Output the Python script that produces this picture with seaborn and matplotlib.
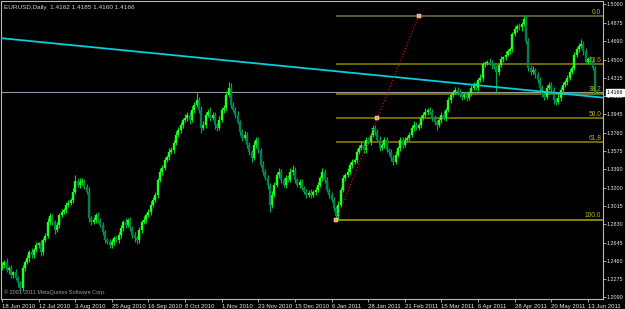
import numpy as np
import pandas as pd
import matplotlib
matplotlib.use("Agg")
import matplotlib.pyplot as plt
import seaborn as sns

# ---------------- data ----------------
header_text = "EURUSD,Daily  1.4162 1.4185 1.4160 1.4166"
copyright_text = "\u00a9 2001-2011 MetaQuotes Software Corp."
start_date = "2010-06-18"

opens = [
    1.2390, 1.2416, 1.2447, 1.2365, 1.2385, 1.2314, 1.2344, 1.2283, 1.2232, 1.2181,
    1.2385, 1.2447, 1.2487, 1.2548, 1.2517, 1.2568, 1.2619, 1.2639, 1.2548, 1.2670,
    1.2711, 1.2853, 1.2914, 1.2853, 1.2772, 1.2823, 1.2924, 1.2955, 1.2975, 1.3026,
    1.3046, 1.3077, 1.3158, 1.3270, 1.3229, 1.3260, 1.3260, 1.3209, 1.3158, 1.2893,
    1.2853, 1.2873, 1.2924, 1.2873, 1.2823, 1.2751, 1.2670, 1.2650, 1.2619, 1.2650,
    1.2690, 1.2670, 1.2721, 1.2792, 1.2853, 1.2823, 1.2873, 1.2792, 1.2721, 1.2690,
    1.2670, 1.2772, 1.2853, 1.2873, 1.2924, 1.2955, 1.3026, 1.3077, 1.3128, 1.3280,
    1.3361, 1.3402, 1.3484, 1.3514, 1.3565, 1.3585, 1.3656, 1.3738, 1.3789, 1.3840,
    1.3890, 1.3911, 1.3941, 1.3890, 1.3992, 1.4043, 1.4094, 1.3992, 1.3809, 1.3840,
    1.3941, 1.3972, 1.3911, 1.3941, 1.3840, 1.3809, 1.3890, 1.3992, 1.4012, 1.4145,
    1.4216, 1.4043, 1.3992, 1.3941, 1.3870, 1.3768, 1.3707, 1.3738, 1.3636, 1.3565,
    1.3504, 1.3636, 1.3687, 1.3585, 1.3433, 1.3361, 1.3300, 1.3229, 1.3026, 1.3128,
    1.3229, 1.3331, 1.3361, 1.3280, 1.3229, 1.3300, 1.3280, 1.3361, 1.3382, 1.3280,
    1.3229, 1.3260, 1.3198, 1.3158, 1.3128, 1.3148, 1.3128, 1.3158, 1.3179, 1.3229,
    1.3300, 1.3361, 1.3280, 1.3179, 1.3128, 1.3077, 1.2995, 1.2914, 1.3026, 1.3179,
    1.3300, 1.3331, 1.3361, 1.3433, 1.3463, 1.3484, 1.3565, 1.3605, 1.3636, 1.3585,
    1.3687, 1.3667, 1.3738, 1.3809, 1.3768, 1.3687, 1.3605, 1.3636, 1.3687, 1.3585,
    1.3565, 1.3504, 1.3463, 1.3534, 1.3605, 1.3687, 1.3636, 1.3687, 1.3707, 1.3738,
    1.3809, 1.3840, 1.3809, 1.3840, 1.3911, 1.3941, 1.3972, 1.3992, 1.3972, 1.3911,
    1.3870, 1.3840, 1.3890, 1.3941, 1.3911, 1.3992, 1.4094, 1.4145, 1.4175, 1.4196,
    1.4175, 1.4145, 1.4124, 1.4145, 1.4114, 1.4165, 1.4216, 1.4246, 1.4216, 1.4297,
    1.4317, 1.4450, 1.4460, 1.4480, 1.4470, 1.4440, 1.4429, 1.4378, 1.4440, 1.4501,
    1.4521, 1.4551, 1.4582, 1.4602, 1.4755, 1.4806, 1.4836, 1.4826, 1.4857, 1.4907,
    1.4684, 1.4419, 1.4378, 1.4399, 1.4348, 1.4297, 1.4216, 1.4145, 1.4124, 1.4216,
    1.4246, 1.4196, 1.4094, 1.4074, 1.4114, 1.4196, 1.4246, 1.4277, 1.4317, 1.4378,
    1.4419, 1.4551, 1.4602, 1.4633, 1.4653, 1.4582, 1.4480, 1.4501, 1.4480, 1.4419,
    1.4162,
]

closes = [
    1.2416, 1.2447, 1.2365, 1.2385, 1.2314, 1.2344, 1.2283, 1.2232, 1.2181, 1.2385,
    1.2447, 1.2487, 1.2548, 1.2517, 1.2568, 1.2619, 1.2639, 1.2548, 1.2670, 1.2711,
    1.2853, 1.2914, 1.2853, 1.2772, 1.2823, 1.2924, 1.2955, 1.2975, 1.3026, 1.3046,
    1.3077, 1.3158, 1.3270, 1.3229, 1.3260, 1.3260, 1.3209, 1.3158, 1.2893, 1.2853,
    1.2873, 1.2924, 1.2873, 1.2823, 1.2751, 1.2670, 1.2650, 1.2619, 1.2650, 1.2690,
    1.2670, 1.2721, 1.2792, 1.2853, 1.2823, 1.2873, 1.2792, 1.2721, 1.2690, 1.2670,
    1.2772, 1.2853, 1.2873, 1.2924, 1.2955, 1.3026, 1.3077, 1.3128, 1.3280, 1.3361,
    1.3402, 1.3484, 1.3514, 1.3565, 1.3585, 1.3656, 1.3738, 1.3789, 1.3840, 1.3890,
    1.3911, 1.3941, 1.3890, 1.3992, 1.4043, 1.4094, 1.3992, 1.3809, 1.3840, 1.3941,
    1.3972, 1.3911, 1.3941, 1.3840, 1.3809, 1.3890, 1.3992, 1.4012, 1.4145, 1.4216,
    1.4043, 1.3992, 1.3941, 1.3870, 1.3768, 1.3707, 1.3738, 1.3636, 1.3565, 1.3504,
    1.3636, 1.3687, 1.3585, 1.3433, 1.3361, 1.3300, 1.3229, 1.3026, 1.3128, 1.3229,
    1.3331, 1.3361, 1.3280, 1.3229, 1.3300, 1.3280, 1.3361, 1.3382, 1.3280, 1.3229,
    1.3260, 1.3198, 1.3158, 1.3128, 1.3148, 1.3128, 1.3158, 1.3179, 1.3229, 1.3300,
    1.3361, 1.3280, 1.3179, 1.3128, 1.3077, 1.2995, 1.2914, 1.3026, 1.3179, 1.3300,
    1.3331, 1.3361, 1.3433, 1.3463, 1.3484, 1.3565, 1.3605, 1.3636, 1.3585, 1.3687,
    1.3667, 1.3738, 1.3809, 1.3768, 1.3687, 1.3605, 1.3636, 1.3687, 1.3585, 1.3565,
    1.3504, 1.3463, 1.3534, 1.3605, 1.3687, 1.3636, 1.3687, 1.3707, 1.3738, 1.3809,
    1.3840, 1.3809, 1.3840, 1.3911, 1.3941, 1.3972, 1.3992, 1.3972, 1.3911, 1.3870,
    1.3840, 1.3890, 1.3941, 1.3911, 1.3992, 1.4094, 1.4145, 1.4175, 1.4196, 1.4175,
    1.4145, 1.4124, 1.4145, 1.4114, 1.4165, 1.4216, 1.4246, 1.4216, 1.4297, 1.4317,
    1.4450, 1.4460, 1.4480, 1.4470, 1.4440, 1.4429, 1.4378, 1.4440, 1.4501, 1.4521,
    1.4551, 1.4582, 1.4602, 1.4755, 1.4806, 1.4836, 1.4826, 1.4857, 1.4907, 1.4684,
    1.4419, 1.4378, 1.4399, 1.4348, 1.4297, 1.4216, 1.4145, 1.4124, 1.4216, 1.4246,
    1.4196, 1.4094, 1.4074, 1.4114, 1.4196, 1.4246, 1.4277, 1.4317, 1.4378, 1.4419,
    1.4551, 1.4602, 1.4633, 1.4653, 1.4582, 1.4480, 1.4501, 1.4480, 1.4419, 1.4162,
    1.4166,
]

# upper / lower shadow lengths, in pips
wick_up_pips = [
    30, 25, 40, 20, 35, 15, 30, 25, 20, 35,
    20, 30, 25, 40, 20, 30, 15, 35, 25, 30,
    40, 30, 25, 20, 35, 25, 30, 20, 25, 30,
    20, 35, 63, 30, 40, 35, 25, 30, 45, 20,
    30, 25, 35, 20, 30, 25, 20, 35, 30, 20,
    25, 30, 35, 20, 40, 25, 30, 20, 35, 25,
    30, 25, 40, 20, 30, 35, 25, 30, 20, 35,
    25, 30, 20, 35, 25, 30, 40, 25, 30, 20,
    35, 25, 30, 40, 25, 71, 30, 40, 35, 25,
    30, 45, 25, 30, 20, 35, 30, 25, 40, 61,
    45, 30, 25, 35, 20, 30, 40, 25, 30, 20,
    35, 25, 30, 20, 35, 25, 30, 20, 40, 25,
    30, 35, 25, 20, 30, 25, 35, 51, 30, 20,
    25, 30, 20, 25, 30, 35, 20, 25, 30, 20,
    35, 25, 30, 20, 25, 30, 20, 35, 25, 30,
    20, 35, 25, 30, 20, 25, 30, 35, 25, 30,
    25, 20, 31, 30, 25, 35, 20, 30, 25, 20,
    30, 25, 35, 20, 30, 25, 30, 20, 25, 30,
    35, 25, 20, 30, 25, 35, 20, 31, 25, 30,
    20, 30, 25, 35, 20, 30, 25, 20, 30, 25,
    30, 20, 25, 35, 20, 30, 25, 30, 20, 35,
    25, 30, 20, 35, 25, 30, 20, 25, 30, 20,
    35, 25, 30, 20, 35, 25, 30, 20, 33, 40,
    30, 25, 35, 20, 30, 25, 30, 20, 25, 30,
    25, 30, 20, 35, 25, 30, 20, 25, 30, 20,
    30, 25, 35, 51, 30, 40, 25, 30, 35, 20,
    19,
]

wick_dn_pips = [
    25, 30, 20, 35, 25, 30, 20, 35, 28, 25,
    30, 20, 35, 25, 30, 20, 25, 40, 30, 20,
    25, 30, 35, 40, 25, 30, 20, 25, 30, 20,
    25, 30, 20, 25, 30, 35, 20, 25, 40, 30,
    25, 35, 30, 20, 25, 30, 20, 31, 25, 30,
    20, 30, 25, 35, 30, 20, 25, 30, 35, 40,
    25, 30, 20, 35, 25, 30, 20, 25, 30, 20,
    30, 25, 20, 35, 25, 30, 20, 25, 30, 35,
    20, 30, 40, 25, 30, 20, 35, 50, 25, 30,
    20, 35, 25, 40, 30, 25, 20, 30, 25, 20,
    35, 25, 30, 20, 35, 30, 25, 30, 35, 40,
    25, 30, 35, 20, 30, 25, 40, 71, 30, 25,
    20, 30, 35, 25, 30, 20, 25, 30, 35, 25,
    30, 25, 20, 30, 25, 35, 20, 30, 25, 20,
    30, 35, 25, 30, 20, 35, 41, 30, 25, 20,
    30, 25, 20, 35, 25, 30, 20, 25, 35, 30,
    25, 30, 20, 35, 25, 30, 20, 35, 25, 30,
    35, 30, 25, 20, 30, 35, 25, 20, 30, 25,
    30, 20, 25, 30, 20, 25, 30, 20, 35, 30,
    51, 25, 30, 20, 35, 25, 30, 20, 25, 30,
    25, 30, 20, 35, 25, 30, 20, 25, 35, 20,
    30, 25, 20, 30, 35, 25, 210, 30, 20, 25,
    30, 20, 25, 30, 20, 25, 30, 35, 20, 30,
    35, 30, 25, 30, 35, 30, 25, 30, 20, 25,
    30, 40, 35, 25, 30, 20, 25, 30, 20, 25,
    20, 30, 25, 20, 35, 30, 25, 30, 25, 12,
    2,
]

ytick_values = [1.5060, 1.4875, 1.4690, 1.4500, 1.4315, 1.4130, 1.3945, 1.3760,
                1.3575, 1.3390, 1.3200, 1.3015, 1.2830, 1.2645, 1.2460, 1.2275, 1.2090]
xtick_step = 16

trend_bars = [0, 260]
trend_prices = [1.4716, 1.4120]

fib_bars = [146, 182]
fib_prices = [1.2873, 1.4940]
fib_levels = [0.0, 23.6, 38.2, 50.0, 61.8, 100.0]

current_price = 1.4166

# ---------------- styling ----------------
sns.set_theme(style="dark", rc={"axes.facecolor": "black", "figure.facecolor": "black"})
plt.rcParams["font.family"] = ["Liberation Sans", "DejaVu Sans"]

W, H = 625, 309
fig = plt.figure(figsize=(W / 100, H / 100), dpi=100)
ax = fig.add_axes([1 / W, 10 / H, 602 / W, 298 / H])
ax.set_facecolor("black")

n = len(closes)
dates = pd.bdate_range(start_date, periods=n)
df = pd.DataFrame({
    "bar": np.arange(n),
    "date": dates,
    "open": opens,
    "close": closes,
    "wu": wick_up_pips,
    "wd": wick_dn_pips,
})
df["top"] = df[["open", "close"]].max(axis=1)
df["bot"] = df[["open", "close"]].min(axis=1)
df["high"] = df["top"] + df["wu"] / 10000.0
df["low"] = df["bot"] - df["wd"] / 10000.0
df["up"] = df["close"] >= df["open"]
df["bot_draw"] = df["bot"]
df["top_draw"] = np.maximum(df["top"], df["bot"] + 0.0005)

up = df[df["up"]]
dn = df[~df["up"]]
# shadows
ax.vlines(up["bar"], up["low"], up["high"], colors="#00e000", lw=0.85, zorder=3)
ax.vlines(dn["bar"], dn["low"], dn["high"], colors="#00a848", lw=0.85, zorder=3)
# bodies
ax.vlines(up["bar"], up["bot_draw"], up["top_draw"], colors="#22ff22", lw=1.7, zorder=4)
ax.vlines(dn["bar"], dn["bot_draw"], dn["top_draw"], colors="#008050", lw=1.7, zorder=4)

xmin, xmax = -0.437, 262.56
ymin, ymax = 1.20726, 1.50935
ax.set_xlim(xmin, xmax)
ax.set_ylim(ymin, ymax)

# current price line
ax.axhline(current_price, color="#8f9aa8", lw=0.8, zorder=2)

# trend line (ray through two anchor points)
slope = (trend_prices[1] - trend_prices[0]) / (trend_bars[1] - trend_bars[0])
tx = [xmin, xmax]
ty = [trend_prices[0] + slope * (x - trend_bars[0]) for x in tx]
sns.lineplot(x=tx, y=ty, ax=ax, color="#00d0d8", lw=1.3, zorder=5)

# Fibonacci retracement
lo, hi = fib_prices
rng = hi - lo
for lev in fib_levels:
    p = hi - rng * lev / 100.0
    col = "#8a8a00" if lev not in (0.0,) else "#75754a"
    if lev == 100.0:
        col = "#a8a800"
    ax.hlines(p, fib_bars[0], xmax, colors=col, lw=1.1, zorder=2.5)
    ax.text(0.997, p + 0.0006, f"{lev:.1f}", transform=ax.get_yaxis_transform(),
            ha="right", va="bottom", fontsize=4.8, color="#b4b400", zorder=6)

sns.lineplot(x=fib_bars, y=fib_prices, ax=ax, color="#c01010", lw=0.9,
             linestyle=(0, (1, 1.5)), zorder=6)
mid_bar = (fib_bars[0] + fib_bars[1]) / 2
mid_price = (fib_prices[0] + fib_prices[1]) / 2
sns.scatterplot(x=[fib_bars[0], mid_bar, fib_bars[1]], y=[fib_prices[0], mid_price, fib_prices[1]],
                ax=ax, marker="s", s=5, color="#ff9a60", edgecolor="#ffffff", linewidth=0.3, zorder=7)

# axes, ticks
for side in ["left", "top", "right", "bottom"]:
    ax.spines[side].set_visible(True)
    ax.spines[side].set_color("#b8b8b8")
    ax.spines[side].set_linewidth(0.8)

ax.yaxis.tick_right()
ax.set_yticks(ytick_values)
ax.set_yticklabels([f"{v:.4f}" for v in ytick_values])
xt = list(range(0, n, xtick_step))
ax.set_xticks(xt)
ax.set_xticklabels([f"{dates[i].day} {dates[i]:%b %Y}" for i in xt])
ax.tick_params(axis="y", which="both", right=True, left=False, length=2.0, width=0.6,
               color="#c0c0c0", labelcolor="#e8e8e8", labelsize=3.9, pad=0.6)
ax.tick_params(axis="x", which="both", bottom=True, length=2.5, width=0.6,
               color="#c0c0c0", labelcolor="#e8e8e8", labelsize=4.3, pad=0.8)
for lab in ax.get_xticklabels():
    lab.set_ha("left")
ax.grid(False)
ax.set_xlabel("")
ax.set_ylabel("")
if ax.get_legend() is not None:
    ax.get_legend().remove()

# current price tag
ax.annotate(f"{current_price:.4f}", xy=(1.0, current_price), xycoords=ax.get_yaxis_transform(),
            xytext=(2.4, 0), textcoords="offset points", ha="left", va="center",
            fontsize=3.9, color="black", zorder=10, annotation_clip=False,
            bbox=dict(boxstyle="square,pad=0.15", fc="white", ec="white"))

# header and copyright
ax.text(3 / 602, 1 - 7 / 298, header_text, transform=ax.transAxes, ha="left", va="center",
        fontsize=4.6, color="#d0d0d0", zorder=10)
ax.text(3 / 602, 7 / 298, copyright_text, transform=ax.transAxes, ha="left", va="center",
        fontsize=4.0, color="#9a9a9a", zorder=10)

fig.savefig("out.png", dpi=100, facecolor="black")
